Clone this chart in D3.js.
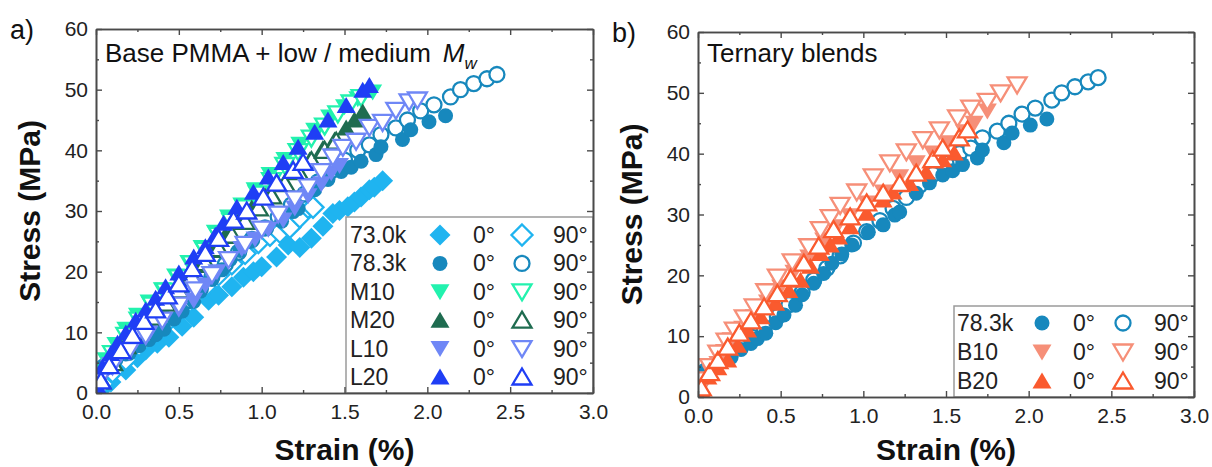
<!DOCTYPE html>
<html>
<head>
<meta charset="utf-8">
<script src="https://cdn.jsdelivr.net/npm/d3@7"></script>
<style>
  body { margin: 0; background: #fff; }
  svg { display: block; font-family: "Liberation Sans", Arial, sans-serif; }
</style>
</head>
<body>
<svg id="chart" width="1212" height="467"></svg>
<script>
// ---- data (strain %, stress MPa) ----
var s730k0 = [[0.03,0.5],[0.09,1.8],[0.18,3.8],[0.25,5.8],[0.30,7.1],[0.37,8.2],[0.44,9.2],[0.52,11],[0.59,12.5],[0.68,15.3],[0.74,16.1],[0.82,17.5],[0.89,19.1],[0.95,20],[1.0,20.8],[1.09,22.4],[1.16,24.4],[1.23,24],[1.3,25.5],[1.37,27.5],[1.43,29.6],[1.47,30.1],[1.52,30.7],[1.56,31.5],[1.60,32.3],[1.65,33.5],[1.68,33.9],[1.73,35.0]];
var s730k90 = [[0.04,1.5],[0.1,3.5],[0.18,5.5],[0.26,7.8],[0.34,9.8],[0.42,11.5],[0.5,13.5],[0.58,15.5],[0.66,17.5],[0.74,19.5],[0.82,21.3],[0.9,23],[0.98,24.8],[1.05,26],[1.11,26.5],[1.17,27.3],[1.23,29],[1.28,30.6],[1.31,30.6]];
var s783k0 = [[0.02,2.5],[0.04,4.4],[0.12,5.5],[0.2,6.5],[0.26,7.8],[0.32,8.8],[0.36,9.6],[0.41,10.5],[0.47,12.2],[0.52,13.5],[0.59,15.1],[0.63,16.8],[0.70,18.7],[0.76,20.3],[0.81,22],[0.87,23.5],[0.93,25],[1.03,27.1],[1.12,28.3],[1.19,29.9],[1.22,30.4],[1.32,33.5],[1.40,35.2],[1.48,36.5],[1.54,37.2],[1.60,38.2],[1.69,39.3],[1.72,40.6],[1.85,41.8],[1.90,43.4],[2.01,44.7],[2.11,45.7]];
var s783k90 = [[0.03,3.5],[0.1,5.2],[0.18,6.6],[0.25,8.3],[0.33,9.8],[0.4,11.4],[0.48,13.2],[0.55,15.2],[0.63,17.2],[0.7,19.2],[0.78,21.2],[0.86,23.2],[0.94,25.3],[1.02,27.2],[1.1,29],[1.18,31],[1.26,32.8],[1.34,34.8],[1.42,36.6],[1.5,38.4],[1.58,40],[1.65,40.9],[1.72,42.6],[1.81,43.7],[1.88,45],[1.96,46.5],[2.04,47.5],[2.14,48.8],[2.20,50],[2.28,51],[2.36,51.8],[2.42,52.5]];
var m10_0 = [[0.02,3.5],[0.06,5.5],[0.12,8],[0.18,10.5],[0.25,12.8],[0.32,15],[0.4,17],[0.48,19.3],[0.56,21.5],[0.64,24],[0.72,26.5],[0.8,29],[0.88,31],[0.96,33.5],[1.05,36],[1.14,38.5],[1.23,41],[1.32,43.3],[1.41,45.5],[1.5,47.2],[1.58,48.5],[1.67,49.6]];
var m10_90 = [[0.03,3],[0.1,6.5],[0.18,9.5],[0.26,12],[0.34,14.5],[0.42,16.8],[0.5,19],[0.58,21.3],[0.66,23.5],[0.74,26],[0.82,28.3],[0.9,30.5],[0.98,32.8],[1.06,35],[1.14,37.5],[1.22,39.8],[1.3,42],[1.38,44],[1.46,46],[1.54,47.8],[1.6,48.7]];
var m20_0 = [[0.02,2.5],[0.08,5],[0.15,7.5],[0.22,9.8],[0.3,12],[0.38,14.3],[0.46,16.5],[0.54,18.8],[0.62,21],[0.7,23.5],[0.78,26],[0.86,28.3],[0.94,30.5],[1.02,32.5],[1.1,34.5],[1.2,36.5],[1.29,38.4],[1.37,40.3],[1.44,41.7],[1.51,43.7],[1.56,45],[1.61,46.3]];
var m20_90 = [[0.03,2],[0.1,5],[0.18,7.8],[0.26,10.2],[0.34,12.5],[0.42,14.8],[0.5,17],[0.58,19.2],[0.66,21.5],[0.74,23.8],[0.82,26],[0.9,28.3],[0.98,30.5],[1.06,32.5],[1.14,34.5],[1.22,36.5],[1.3,38.3],[1.38,40],[1.45,41.5]];
var l10_0 = [[0.02,3],[0.08,4.3],[0.15,6.3],[0.22,8],[0.32,9.9],[0.4,12],[0.5,13.8],[0.59,15.3],[0.66,17.8],[0.73,20],[0.80,21.9],[0.88,23.8],[0.96,25.4],[1.04,27],[1.13,28.5],[1.2,30.5],[1.28,32.5],[1.36,34.5],[1.42,36.3],[1.47,37.5]];
var l10_90 = [[0.03,2.5],[0.1,4.5],[0.2,7],[0.3,9.5],[0.4,12],[0.5,14.5],[0.6,17],[0.7,19.5],[0.8,22],[0.9,24.5],[1.0,27],[1.1,29.5],[1.2,32],[1.28,34],[1.36,36.5],[1.43,38.9],[1.49,40.5],[1.57,41.5],[1.65,43.8],[1.73,44.6],[1.81,46.6],[1.89,48],[1.94,48.3]];
var l20_0 = [[0.01,1],[0.04,4.3],[0.09,6.5],[0.13,8.2],[0.18,9.9],[0.24,12],[0.30,13.7],[0.36,15.6],[0.42,17.5],[0.5,19.8],[0.59,22.4],[0.66,24.1],[0.72,26],[0.77,28],[0.85,30.6],[0.95,33.1],[1.04,35.6],[1.13,38],[1.22,40.5],[1.32,43],[1.40,45],[1.51,47.4],[1.61,49.9],[1.65,50.7]];
var l20_90 = [[0.03,2],[0.08,4.5],[0.15,7],[0.22,9.5],[0.29,11.8],[0.36,13.7],[0.43,16],[0.5,18],[0.58,20.5],[0.66,23],[0.74,25.5],[0.83,28.5],[0.91,30],[1.01,32.3],[1.09,34.6],[1.19,36.7],[1.25,38]];
var b10_0 = [[0.01,1],[0.04,2.8],[0.08,4],[0.12,5.5],[0.16,7.5],[0.2,9.4],[0.27,11.3],[0.34,13.2],[0.42,15.6],[0.5,18.1],[0.58,20.5],[0.67,23],[0.76,25.8],[0.84,28],[0.92,29.8],[1.02,31.9],[1.12,33.7],[1.22,36.2],[1.32,38.5],[1.42,40.1],[1.51,41.8],[1.61,43.6],[1.67,45],[1.75,47]];
var b10_90 = [[0.02,2.8],[0.07,5],[0.12,7.2],[0.17,9.2],[0.22,11],[0.28,13],[0.34,14.8],[0.41,17.3],[0.48,19.7],[0.57,22.2],[0.67,24.7],[0.74,27.5],[0.8,29.5],[0.86,31.5],[0.96,33.7],[1.06,36.2],[1.16,38.5],[1.26,40.3],[1.36,42.3],[1.46,43.9],[1.57,45.9],[1.65,47.5],[1.75,48.6],[1.83,50],[1.93,51.3]];
var b20_0 = [[0.03,0.6],[0.06,3.3],[0.12,4.8],[0.18,6.1],[0.24,8.5],[0.30,11],[0.38,13.2],[0.47,15.4],[0.55,17.5],[0.62,19.2],[0.68,21.5],[0.74,23.6],[0.8,25],[0.85,26.3],[0.92,28],[1.02,30.2],[1.12,32.4],[1.18,33.7],[1.28,35.1],[1.38,37],[1.48,39],[1.55,40.1]];
var b20_90 = [[0.02,1.5],[0.07,4],[0.12,6],[0.18,8.2],[0.25,10.5],[0.32,12.5],[0.4,14.8],[0.48,17],[0.56,19.5],[0.64,22],[0.73,24.8],[0.82,27.5],[0.92,29.6],[1.02,31.9],[1.12,33.5],[1.22,35.1],[1.32,36.8],[1.42,39],[1.48,40.9],[1.58,42.6],[1.63,43.9]];

var namesA = ["73.0k", "78.3k", "M10", "M20", "L10", "L20"];
var namesB = ["78.3k", "B10", "B20"];
var angleLabels = ["0°", "90°"];
var xMajor = [0, 0.5, 1.0, 1.5, 2.0, 2.5, 3.0];
var xMinor = [0.25, 0.75, 1.25, 1.75, 2.25, 2.75];
var yMajor = [0, 10, 20, 30, 40, 50, 60];
var yMinor = [5, 15, 25, 35, 45, 55];

var colors = {
    "73.0k": "#1fb4f0", "78.3k": "#1788bd", "M10": "#22f2ae", "M20": "#1f6c50",
    "L10": "#6f87f6", "L20": "#1f3ef5", "B10": "#f68f78", "B20": "#fa5a2e"
};
var shapes = {
    "73.0k": "diamond", "78.3k": "circle", "M10": "down", "M20": "up",
    "L10": "down", "L20": "up", "B10": "down", "B20": "up"
};
var seriesA = {
    "73.0k": [s730k0, s730k90], "78.3k": [s783k0, s783k90], "M10": [m10_0, m10_90],
    "M20": [m20_0, m20_90], "L10": [l10_0, l10_90], "L20": [l20_0, l20_90]
};
var seriesB = { "78.3k": [s783k0, s783k90], "B10": [b10_0, b10_90], "B20": [b20_0, b20_90] };

function markerPath(shape) {
    if (shape == "circle") return "M7.5,0A7.5,7.5 0 1,1 -7.5,0A7.5,7.5 0 1,1 7.5,0Z";
    if (shape == "diamond") return "M0,-10.5L10.5,0L0,10.5L-10.5,0Z";
    if (shape == "up") return "M0,-8.5L9.5,7.5L-9.5,7.5Z";
    return "M0,8.5L9.5,-7.5L-9.5,-7.5Z";
}

var svg = d3.select("#chart");

function drawPanel(p) {
    var x = d3.scaleLinear().domain([0, 3]).range([p.left, p.right]);
    var y = d3.scaleLinear().domain([0, 60]).range([p.bottom, p.top]);
    var g = svg.append("g");

    g.append("clipPath").attr("id", "clip" + p.id)
        .append("rect").attr("x", p.left).attr("y", p.top)
        .attr("width", p.right - p.left).attr("height", p.bottom - p.top);

    var plot = g.append("g").attr("clip-path", "url(#clip" + p.id + ")");
    p.names.forEach(function(name) {
        // 78.3k: open (90°) symbols sit underneath the filled ones
        var order = name == "78.3k" ? [1, 0] : [0, 1];
        order.forEach(function(k) {
            plot.append("g").selectAll("path")
                .data(p.series[name][k])
                .join("path")
                .attr("d", markerPath(shapes[name]))
                .attr("transform", d => "translate(" + x(d[0]) + "," + y(d[1]) + ")")
                .attr("fill", k == 0 ? colors[name] : "#fff")
                .attr("stroke", k == 0 ? "none" : colors[name])
                .attr("stroke-width", 2.3);
        });
    });

    // legend box
    var L = p.legend;
    var lg = g.append("g");
    lg.append("rect").attr("x", L.x).attr("y", L.y)
        .attr("width", p.right - L.x).attr("height", p.bottom - L.y)
        .attr("fill", "#fff").attr("stroke", "#9a9a9a").attr("stroke-width", 1.5);
    p.names.forEach(function(name, i) {
        var cy = L.y0 + i * L.dy;
        lg.append("text").attr("x", L.x + L.label).attr("y", cy + 8)
            .attr("font-size", 23).attr("fill", "#222").text(name);
        [0, 1].forEach(function(k) {
            lg.append("path").attr("d", markerPath(shapes[name]))
                .attr("transform", "translate(" + (L.x + L.mark[k]) + "," + cy + ")")
                .attr("fill", k == 0 ? colors[name] : "#fff")
                .attr("stroke", k == 0 ? "none" : colors[name])
                .attr("stroke-width", 2.3);
            lg.append("text").attr("x", L.x + L.ang[k]).attr("y", cy + 8)
                .attr("font-size", 23).attr("fill", "#222").text(angleLabels[k]);
        });
    });

    // frame and ticks
    function styleAxis(sel) {
        sel.selectAll("path.domain").attr("stroke", "#4a4a4a").attr("stroke-width", 1.6);
        sel.selectAll(".tick line").attr("stroke", "#4a4a4a").attr("stroke-width", 1.4);
        sel.selectAll(".tick text").attr("font-size", 21).attr("fill", "#222")
            .attr("font-family", "Liberation Sans, Arial, sans-serif");
    }
    var ax = g.append("g");
    ax.append("g").attr("transform", "translate(0," + p.bottom + ")")
        .call(d3.axisBottom(x).tickValues(xMajor).tickSize(-6).tickSizeOuter(0)
            .tickPadding(11).tickFormat(d3.format(".1f"))).call(styleAxis);
    ax.append("g").attr("transform", "translate(0," + p.bottom + ")")
        .call(d3.axisBottom(x).tickValues(xMinor).tickSize(-3).tickSizeOuter(0).tickFormat("")).call(styleAxis);
    ax.append("g").attr("transform", "translate(0," + p.top + ")")
        .call(d3.axisTop(x).tickValues(xMajor).tickSize(-6).tickSizeOuter(0).tickFormat("")).call(styleAxis);
    ax.append("g").attr("transform", "translate(0," + p.top + ")")
        .call(d3.axisTop(x).tickValues(xMinor).tickSize(-3).tickSizeOuter(0).tickFormat("")).call(styleAxis);
    ax.append("g").attr("transform", "translate(" + p.left + ",0)")
        .call(d3.axisLeft(y).tickValues(yMajor).tickSize(-6).tickSizeOuter(0)
            .tickPadding(8).tickFormat(d3.format("d"))).call(styleAxis);
    ax.append("g").attr("transform", "translate(" + p.left + ",0)")
        .call(d3.axisLeft(y).tickValues(yMinor).tickSize(-3).tickSizeOuter(0).tickFormat("")).call(styleAxis);
    ax.append("g").attr("transform", "translate(" + p.right + ",0)")
        .call(d3.axisRight(y).tickValues(yMajor).tickSize(-6).tickSizeOuter(0).tickFormat("")).call(styleAxis);
    ax.append("g").attr("transform", "translate(" + p.right + ",0)")
        .call(d3.axisRight(y).tickValues(yMinor).tickSize(-3).tickSizeOuter(0).tickFormat("")).call(styleAxis);

    // titles
    g.append("text").attr("transform", "translate(" + (p.left - 56) + "," + ((p.top + p.bottom) / 2) + ") rotate(-90)")
        .attr("text-anchor", "middle").attr("font-size", 30).attr("font-weight", "bold")
        .attr("fill", "#111").text("Stress (MPa)");
    g.append("text").attr("x", (p.left + p.right) / 2).attr("y", 460)
        .attr("text-anchor", "middle").attr("font-size", 30).attr("font-weight", "bold")
        .attr("fill", "#111").text("Strain (%)");
    g.append("text").attr("x", p.left - 86).attr("y", p.top + 10)
        .attr("font-size", 27).attr("fill", "#111").text(p.tag);

    var t = g.append("text").attr("x", p.left + 9).attr("y", 62)
        .attr("font-size", 26).attr("fill", "#111").text(p.title);
    if (p.mw) {
        t.append("tspan").attr("dx", 12).attr("font-style", "italic").text("M");
        t.append("tspan").attr("dy", 7).attr("font-size", 17).attr("font-style", "italic").text("w");
    }
}

drawPanel({
    id: "a", left: 96, right: 593, top: 29, bottom: 393, tag: "a)",
    title: "Base PMMA + low / medium", mw: true,
    names: namesA, series: seriesA,
    legend: { x: 346, y: 217, y0: 235, dy: 28.4, label: 4, mark: [94, 176], ang: [127, 207] }
});
drawPanel({
    id: "b", left: 698, right: 1194, top: 32, bottom: 397, tag: "b)",
    title: "Ternary blends", mw: false,
    names: namesB, series: seriesB,
    legend: { x: 954, y: 306, y0: 323, dy: 29, label: 3, mark: [88, 169], ang: [119, 200] }
});
</script>
</body>
</html>
